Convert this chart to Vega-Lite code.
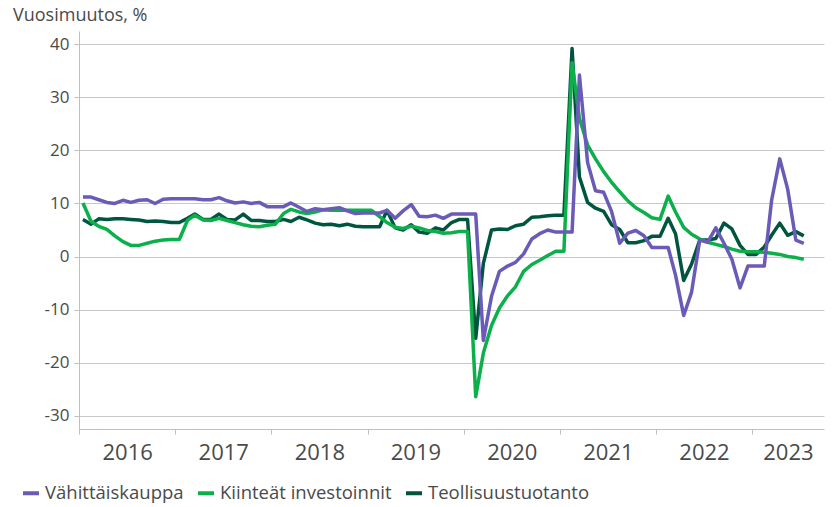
{
  "$schema": "https://vega.github.io/schema/vega-lite/v6.json",
  "width": 745,
  "height": 398,
  "autosize": "none",
  "padding": {"left": 79, "top": 31, "right": 13, "bottom": 78},
  "background": "white",
  "config": {"view": {"stroke": null}, "font": "Open Sans"},
  "title": {"text": "Vuosimuutos, %", "anchor": "start", "frame": "group", "dx": -66, "offset": 6, "fontSize": 18, "fontWeight": "normal", "color": "#4a4a4a", "font": "Open Sans"},
  "data": {"values": [
    {"d":"2016-01-16","Vähittäiskauppa":11.2,"Kiinteät investoinnit":10.1,"Teollisuustuotanto":7.0},
    {"d":"2016-02-16","Vähittäiskauppa":11.2,"Kiinteät investoinnit":6.6,"Teollisuustuotanto":6.1},
    {"d":"2016-03-16","Vähittäiskauppa":10.7,"Kiinteät investoinnit":5.7,"Teollisuustuotanto":7.1},
    {"d":"2016-04-16","Vähittäiskauppa":10.2,"Kiinteät investoinnit":5.1,"Teollisuustuotanto":7.0},
    {"d":"2016-05-16","Vähittäiskauppa":10.0,"Kiinteät investoinnit":3.9,"Teollisuustuotanto":7.1},
    {"d":"2016-06-16","Vähittäiskauppa":10.6,"Kiinteät investoinnit":2.8,"Teollisuustuotanto":7.1},
    {"d":"2016-07-16","Vähittäiskauppa":10.2,"Kiinteät investoinnit":2.1,"Teollisuustuotanto":7.0},
    {"d":"2016-08-16","Vähittäiskauppa":10.6,"Kiinteät investoinnit":2.1,"Teollisuustuotanto":6.9},
    {"d":"2016-09-16","Vähittäiskauppa":10.7,"Kiinteät investoinnit":2.5,"Teollisuustuotanto":6.6},
    {"d":"2016-10-16","Vähittäiskauppa":10.0,"Kiinteät investoinnit":2.9,"Teollisuustuotanto":6.7},
    {"d":"2016-11-16","Vähittäiskauppa":10.8,"Kiinteät investoinnit":3.1,"Teollisuustuotanto":6.6},
    {"d":"2016-12-16","Vähittäiskauppa":10.9,"Kiinteät investoinnit":3.2,"Teollisuustuotanto":6.4},
    {"d":"2017-01-16","Vähittäiskauppa":10.9,"Kiinteät investoinnit":3.2,"Teollisuustuotanto":6.4},
    {"d":"2017-02-16","Vähittäiskauppa":10.9,"Kiinteät investoinnit":6.8,"Teollisuustuotanto":7.2},
    {"d":"2017-03-16","Vähittäiskauppa":10.9,"Kiinteät investoinnit":7.8,"Teollisuustuotanto":8.0},
    {"d":"2017-04-16","Vähittäiskauppa":10.7,"Kiinteät investoinnit":6.9,"Teollisuustuotanto":7.0},
    {"d":"2017-05-16","Vähittäiskauppa":10.7,"Kiinteät investoinnit":6.8,"Teollisuustuotanto":7.0},
    {"d":"2017-06-16","Vähittäiskauppa":11.1,"Kiinteät investoinnit":7.2,"Teollisuustuotanto":8.0},
    {"d":"2017-07-16","Vähittäiskauppa":10.5,"Kiinteät investoinnit":6.8,"Teollisuustuotanto":7.0},
    {"d":"2017-08-16","Vähittäiskauppa":10.1,"Kiinteät investoinnit":6.4,"Teollisuustuotanto":6.9},
    {"d":"2017-09-16","Vähittäiskauppa":10.3,"Kiinteät investoinnit":6.0,"Teollisuustuotanto":8.0},
    {"d":"2017-10-16","Vähittäiskauppa":10.0,"Kiinteät investoinnit":5.7,"Teollisuustuotanto":6.8},
    {"d":"2017-11-16","Vähittäiskauppa":10.2,"Kiinteät investoinnit":5.6,"Teollisuustuotanto":6.8},
    {"d":"2017-12-16","Vähittäiskauppa":9.4,"Kiinteät investoinnit":5.9,"Teollisuustuotanto":6.6},
    {"d":"2018-01-16","Vähittäiskauppa":9.4,"Kiinteät investoinnit":6.1,"Teollisuustuotanto":6.6},
    {"d":"2018-02-16","Vähittäiskauppa":9.4,"Kiinteät investoinnit":8.1,"Teollisuustuotanto":7.0},
    {"d":"2018-03-16","Vähittäiskauppa":10.1,"Kiinteät investoinnit":8.9,"Teollisuustuotanto":6.6},
    {"d":"2018-04-16","Vähittäiskauppa":9.3,"Kiinteät investoinnit":8.4,"Teollisuustuotanto":7.4},
    {"d":"2018-05-16","Vähittäiskauppa":8.5,"Kiinteät investoinnit":8.1,"Teollisuustuotanto":6.9},
    {"d":"2018-06-16","Vähittäiskauppa":9.0,"Kiinteät investoinnit":8.4,"Teollisuustuotanto":6.3},
    {"d":"2018-07-16","Vähittäiskauppa":8.8,"Kiinteät investoinnit":8.8,"Teollisuustuotanto":6.0},
    {"d":"2018-08-16","Vähittäiskauppa":9.0,"Kiinteät investoinnit":8.7,"Teollisuustuotanto":6.1},
    {"d":"2018-09-16","Vähittäiskauppa":9.2,"Kiinteät investoinnit":8.7,"Teollisuustuotanto":5.8},
    {"d":"2018-10-16","Vähittäiskauppa":8.6,"Kiinteät investoinnit":8.7,"Teollisuustuotanto":6.1},
    {"d":"2018-11-16","Vähittäiskauppa":8.1,"Kiinteät investoinnit":8.7,"Teollisuustuotanto":5.7},
    {"d":"2018-12-16","Vähittäiskauppa":8.2,"Kiinteät investoinnit":8.7,"Teollisuustuotanto":5.6},
    {"d":"2019-01-16","Vähittäiskauppa":8.2,"Kiinteät investoinnit":8.7,"Teollisuustuotanto":5.6},
    {"d":"2019-02-16","Vähittäiskauppa":8.2,"Kiinteät investoinnit":7.5,"Teollisuustuotanto":5.6},
    {"d":"2019-03-16","Vähittäiskauppa":8.7,"Kiinteät investoinnit":6.4,"Teollisuustuotanto":8.7},
    {"d":"2019-04-16","Vähittäiskauppa":7.2,"Kiinteät investoinnit":5.5,"Teollisuustuotanto":5.4},
    {"d":"2019-05-16","Vähittäiskauppa":8.6,"Kiinteät investoinnit":5.3,"Teollisuustuotanto":5.0},
    {"d":"2019-06-16","Vähittäiskauppa":9.8,"Kiinteät investoinnit":5.7,"Teollisuustuotanto":6.0},
    {"d":"2019-07-16","Vähittäiskauppa":7.6,"Kiinteät investoinnit":5.4,"Teollisuustuotanto":4.6},
    {"d":"2019-08-16","Vähittäiskauppa":7.5,"Kiinteät investoinnit":4.9,"Teollisuustuotanto":4.4},
    {"d":"2019-09-16","Vähittäiskauppa":7.8,"Kiinteät investoinnit":4.7,"Teollisuustuotanto":5.4},
    {"d":"2019-10-16","Vähittäiskauppa":7.2,"Kiinteät investoinnit":4.4,"Teollisuustuotanto":5.0},
    {"d":"2019-11-16","Vähittäiskauppa":8.0,"Kiinteät investoinnit":4.5,"Teollisuustuotanto":6.4},
    {"d":"2019-12-16","Vähittäiskauppa":8.0,"Kiinteät investoinnit":4.7,"Teollisuustuotanto":7.0},
    {"d":"2020-01-16","Vähittäiskauppa":8.0,"Kiinteät investoinnit":4.7,"Teollisuustuotanto":7.0},
    {"d":"2020-02-16","Vähittäiskauppa":8.0,"Kiinteät investoinnit":-26.4,"Teollisuustuotanto":-15.4},
    {"d":"2020-03-16","Vähittäiskauppa":-15.8,"Kiinteät investoinnit":-18.2,"Teollisuustuotanto":-1.3},
    {"d":"2020-04-16","Vähittäiskauppa":-7.5,"Kiinteät investoinnit":-13.0,"Teollisuustuotanto":5.0},
    {"d":"2020-05-16","Vähittäiskauppa":-2.8,"Kiinteät investoinnit":-9.7,"Teollisuustuotanto":5.2},
    {"d":"2020-06-16","Vähittäiskauppa":-1.8,"Kiinteät investoinnit":-7.4,"Teollisuustuotanto":5.1},
    {"d":"2020-07-16","Vähittäiskauppa":-1.1,"Kiinteät investoinnit":-5.7,"Teollisuustuotanto":5.8},
    {"d":"2020-08-16","Vähittäiskauppa":0.5,"Kiinteät investoinnit":-2.8,"Teollisuustuotanto":6.1},
    {"d":"2020-09-16","Vähittäiskauppa":3.3,"Kiinteät investoinnit":-1.5,"Teollisuustuotanto":7.4},
    {"d":"2020-10-16","Vähittäiskauppa":4.3,"Kiinteät investoinnit":-0.7,"Teollisuustuotanto":7.5},
    {"d":"2020-11-16","Vähittäiskauppa":5.0,"Kiinteät investoinnit":0.2,"Teollisuustuotanto":7.7},
    {"d":"2020-12-16","Vähittäiskauppa":4.6,"Kiinteät investoinnit":1.0,"Teollisuustuotanto":7.8},
    {"d":"2021-01-16","Vähittäiskauppa":4.6,"Kiinteät investoinnit":1.0,"Teollisuustuotanto":7.8},
    {"d":"2021-02-16","Vähittäiskauppa":4.6,"Kiinteät investoinnit":36.5,"Teollisuustuotanto":39.2},
    {"d":"2021-03-16","Vähittäiskauppa":34.2,"Kiinteät investoinnit":26.0,"Teollisuustuotanto":15.0},
    {"d":"2021-04-16","Vähittäiskauppa":17.7,"Kiinteät investoinnit":21.0,"Teollisuustuotanto":10.2},
    {"d":"2021-05-16","Vähittäiskauppa":12.4,"Kiinteät investoinnit":18.4,"Teollisuustuotanto":9.1},
    {"d":"2021-06-16","Vähittäiskauppa":12.1,"Kiinteät investoinnit":16.0,"Teollisuustuotanto":8.5},
    {"d":"2021-07-16","Vähittäiskauppa":8.5,"Kiinteät investoinnit":14.0,"Teollisuustuotanto":6.0},
    {"d":"2021-08-16","Vähittäiskauppa":2.5,"Kiinteät investoinnit":12.2,"Teollisuustuotanto":5.1},
    {"d":"2021-09-16","Vähittäiskauppa":4.4,"Kiinteät investoinnit":10.5,"Teollisuustuotanto":2.6},
    {"d":"2021-10-16","Vähittäiskauppa":4.9,"Kiinteät investoinnit":9.2,"Teollisuustuotanto":2.6},
    {"d":"2021-11-16","Vähittäiskauppa":3.9,"Kiinteät investoinnit":8.3,"Teollisuustuotanto":3.0},
    {"d":"2021-12-16","Vähittäiskauppa":1.7,"Kiinteät investoinnit":7.3,"Teollisuustuotanto":3.8},
    {"d":"2022-01-16","Vähittäiskauppa":1.7,"Kiinteät investoinnit":7.0,"Teollisuustuotanto":3.8},
    {"d":"2022-02-16","Vähittäiskauppa":1.7,"Kiinteät investoinnit":11.4,"Teollisuustuotanto":7.2},
    {"d":"2022-03-16","Vähittäiskauppa":-3.5,"Kiinteät investoinnit":8.4,"Teollisuustuotanto":4.3},
    {"d":"2022-04-16","Vähittäiskauppa":-11.1,"Kiinteät investoinnit":5.5,"Teollisuustuotanto":-4.5},
    {"d":"2022-05-16","Vähittäiskauppa":-6.7,"Kiinteät investoinnit":4.2,"Teollisuustuotanto":-1.4},
    {"d":"2022-06-16","Vähittäiskauppa":3.1,"Kiinteät investoinnit":3.3,"Teollisuustuotanto":3.1},
    {"d":"2022-07-16","Vähittäiskauppa":2.7,"Kiinteät investoinnit":2.7,"Teollisuustuotanto":3.1},
    {"d":"2022-08-16","Vähittäiskauppa":5.4,"Kiinteät investoinnit":2.3,"Teollisuustuotanto":3.4},
    {"d":"2022-09-16","Vähittäiskauppa":2.5,"Kiinteät investoinnit":1.9,"Teollisuustuotanto":6.3},
    {"d":"2022-10-16","Vähittäiskauppa":-0.5,"Kiinteät investoinnit":1.4,"Teollisuustuotanto":5.2},
    {"d":"2022-11-16","Vähittäiskauppa":-5.9,"Kiinteät investoinnit":1.0,"Teollisuustuotanto":2.1},
    {"d":"2022-12-16","Vähittäiskauppa":-1.8,"Kiinteät investoinnit":0.9,"Teollisuustuotanto":0.4},
    {"d":"2023-01-16","Vähittäiskauppa":-1.8,"Kiinteät investoinnit":0.9,"Teollisuustuotanto":0.4},
    {"d":"2023-02-16","Vähittäiskauppa":-1.8,"Kiinteät investoinnit":0.8,"Teollisuustuotanto":1.8},
    {"d":"2023-03-16","Vähittäiskauppa":10.6,"Kiinteät investoinnit":0.6,"Teollisuustuotanto":4.0},
    {"d":"2023-04-16","Vähittäiskauppa":18.4,"Kiinteät investoinnit":0.4,"Teollisuustuotanto":6.3},
    {"d":"2023-05-16","Vähittäiskauppa":12.7,"Kiinteät investoinnit":0.0,"Teollisuustuotanto":4.0},
    {"d":"2023-06-16","Vähittäiskauppa":3.1,"Kiinteät investoinnit":-0.2,"Teollisuustuotanto":4.7},
    {"d":"2023-07-16","Vähittäiskauppa":2.5,"Kiinteät investoinnit":-0.5,"Teollisuustuotanto":3.9}
  ]},
  "transform": [{"fold": ["Teollisuustuotanto", "Kiinteät investoinnit", "Vähittäiskauppa"], "as": ["sarja", "arvo"]}],
  "layer": [
    {
      "mark": {"type": "line", "strokeWidth": 3.5, "strokeJoin": "round"},
      "encoding": {
        "x": {"field": "d", "type": "temporal",
          "scale": {"type": "utc", "domain": [{"year": 2016, "month": 1, "date": 1, "utc": true}, {"year": 2023, "month": 10, "date": 1, "utc": true}]},
          "axis": {"orient": "bottom", "title": null, "labels": false, "grid": false, "ticks": true, "tickSize": 5, "tickColor": "#bfbfbf", "domain": true, "domainColor": "#bfbfbf",
            "values": [
              {"year": 2016, "month": 1, "date": 1, "utc": true},
              {"year": 2017, "month": 1, "date": 1, "utc": true},
              {"year": 2018, "month": 1, "date": 1, "utc": true},
              {"year": 2019, "month": 1, "date": 1, "utc": true},
              {"year": 2020, "month": 1, "date": 1, "utc": true},
              {"year": 2021, "month": 1, "date": 1, "utc": true},
              {"year": 2022, "month": 1, "date": 1, "utc": true},
              {"year": 2023, "month": 1, "date": 1, "utc": true}
            ]}},
        "y": {"field": "arvo", "type": "quantitative",
          "scale": {"domain": [-32.5, 42.5], "nice": false, "zero": false},
          "axis": {"title": null, "values": [-30, -20, -10, 0, 10, 20, 30, 40], "grid": true, "gridColor": "#c8c8c8", "gridWidth": 1,
            "domain": true, "domainColor": "#bfbfbf", "ticks": true, "tickSize": 5, "tickColor": "#bfbfbf",
            "labelExpr": "datum.value < 0 ? '-' + abs(datum.value) : '' + datum.value",
            "labelFontSize": 17, "labelColor": "#4a4a4a", "labelPadding": 5, "labelFont": "Open Sans"}},
        "color": {"field": "sarja", "type": "nominal",
          "scale": {"domain": ["Vähittäiskauppa", "Kiinteät investoinnit", "Teollisuustuotanto"], "range": ["#6A5BB8", "#0BB04B", "#00553F"]},
          "legend": {"title": null, "orient": "none", "legendX": -58, "legendY": 452, "direction": "horizontal",
            "symbolType": "stroke", "symbolSize": 256, "symbolStrokeWidth": 4, "labelFontSize": 18.5, "labelColor": "#4a4a4a",
            "labelFont": "Open Sans", "labelLimit": 0, "columnPadding": 6, "labelOffset": 4}}
      }
    },
    {
      "mark": {"type": "point", "opacity": 0},
      "encoding": {
        "x": {"field": "d", "type": "temporal",
          "axis": {"orient": "bottom", "title": null, "ticks": false, "domain": false, "grid": false, "labelFontSize": 22, "labelColor": "#4a4a4a", "labelFont": "Open Sans",
            "labelPadding": 13, "labelExpr": "utcFormat(datum.value, '%Y')",
            "values": [
              {"year": 2016, "month": 7, "date": 2, "utc": true},
              {"year": 2017, "month": 7, "date": 2, "utc": true},
              {"year": 2018, "month": 7, "date": 2, "utc": true},
              {"year": 2019, "month": 7, "date": 2, "utc": true},
              {"year": 2020, "month": 7, "date": 2, "utc": true},
              {"year": 2021, "month": 7, "date": 2, "utc": true},
              {"year": 2022, "month": 7, "date": 2, "utc": true},
              {"year": 2023, "month": 5, "date": 17, "utc": true}
            ]}}
      }
    }
  ],
  "resolve": {"axis": {"x": "independent"}}
}
